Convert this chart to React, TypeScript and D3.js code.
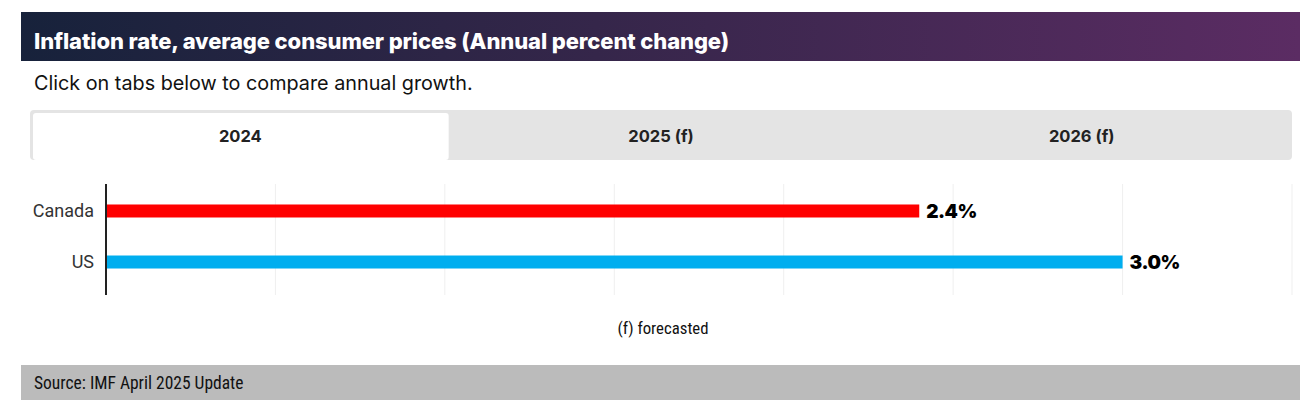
import React, { useEffect, useRef } from 'react';
import * as d3 from 'd3';

const countries = ['Canada', 'US'];
const inflation2024 = [2.4, 3.0];
const barColors = ['#ff0000', '#00aeef'];
const tabLabels = ['2024', '2025 (f)', '2026 (f)'];
const xTicks = [0, 0.5, 1, 1.5, 2, 2.5, 3, 3.5];

const title = 'Inflation rate, average consumer prices (Annual percent change)';
const subtitle = 'Click on tabs below to compare annual growth.';
const note = '(f) forecasted';
const source = 'Source: IMF April 2025 Update';

const W = 1315;
const H = 413;

const App: React.FC = () => {
  const svgRef = useRef<SVGSVGElement>(null);

  useEffect(() => {
    if (!svgRef.current) return;
    const svg = d3.select(svgRef.current);
    svg.selectAll('*').remove();

    // Header band with gradient
    const defs = svg.append('defs');
    const grad = defs.append('linearGradient').attr('id', 'hdr').attr('x1', '0%').attr('x2', '100%');
    grad.append('stop').attr('offset', '0%').attr('stop-color', '#17223b');
    grad.append('stop').attr('offset', '45%').attr('stop-color', '#35264a');
    grad.append('stop').attr('offset', '100%').attr('stop-color', '#5b2c63');

    svg.append('rect')
      .attr('x', 21).attr('y', 12).attr('width', 1279).attr('height', 49)
      .attr('fill', 'url(#hdr)');

    svg.append('text')
      .attr('x', 34).attr('y', 49)
      .attr('fill', '#fff')
      .style('font-family', 'Inter, Lato, sans-serif')
      .style('font-weight', 800)
      .style('font-size', '22px')
      .style('letter-spacing', '-0.1px')
      .text(title);

    svg.append('text')
      .attr('x', 34).attr('y', 90)
      .attr('fill', '#111')
      .style('font-family', 'Inter, "Open Sans", sans-serif')
      .style('font-size', '19.8px')
      .text(subtitle);

    // Tabs
    const tabX = d3.scaleBand().domain(tabLabels).range([30, 1292]);
    svg.append('rect')
      .attr('x', 30).attr('y', 110).attr('width', 1262).attr('height', 50)
      .attr('rx', 4)
      .attr('fill', '#e4e4e4');
    svg.append('rect')
      .attr('x', 33).attr('y', 113).attr('width', tabX.bandwidth() - 5).attr('height', 47)
      .attr('rx', 3)
      .attr('fill', '#fff');
    svg.selectAll('.tab')
      .data(tabLabels)
      .enter().append('text')
      .attr('x', d => (tabX(d) || 0) + tabX.bandwidth() / 2)
      .attr('y', 142)
      .attr('text-anchor', 'middle')
      .attr('fill', '#222')
      .style('font-family', 'Inter, Lato, sans-serif')
      .style('font-weight', 700)
      .style('font-size', '16.5px')
      .text(d => d);

    // Chart
    const x = d3.scaleLinear().domain([0, 3.5]).range([106, 1292]);
    const y = d3.scaleBand().domain(countries).range([185, 288])
      .paddingInner(0.745).paddingOuter(0.382);

    svg.append('g')
      .selectAll('line')
      .data(xTicks.slice(1))
      .enter().append('line')
      .attr('x1', d => x(d)).attr('x2', d => x(d))
      .attr('y1', 184).attr('y2', 295)
      .attr('stroke', '#efefef')
      .attr('stroke-width', 1);

    const rows = countries.map((c, i) => ({ c, v: inflation2024[i], color: barColors[i] }));

    svg.selectAll('.bar')
      .data(rows)
      .enter().append('rect')
      .attr('x', x(0))
      .attr('y', d => (y(d.c) || 0))
      .attr('width', d => x(d.v) - x(0))
      .attr('height', y.bandwidth())
      .attr('fill', d => d.color);

    svg.append('line')
      .attr('x1', x(0)).attr('x2', x(0))
      .attr('y1', 184).attr('y2', 295)
      .attr('stroke', '#222')
      .attr('stroke-width', 2);

    svg.selectAll('.cat')
      .data(rows)
      .enter().append('text')
      .attr('x', 94)
      .attr('y', d => (y(d.c) || 0) + y.bandwidth() / 2)
      .attr('dy', '0.35em')
      .attr('text-anchor', 'end')
      .attr('fill', '#333')
      .style('font-family', 'Roboto, Arial, sans-serif')
      .style('font-size', '18px')
      .text(d => d.c);

    svg.selectAll('.val')
      .data(rows)
      .enter().append('text')
      .attr('x', d => x(d.v) + 7)
      .attr('y', d => (y(d.c) || 0) + y.bandwidth() / 2)
      .attr('dy', '0.36em')
      .attr('fill', '#000')
      .style('font-family', 'Inter, Lato, sans-serif')
      .style('font-weight', 900)
      .style('font-size', '19px')
      .style('letter-spacing', '-0.5px')
      .text(d => `${d.v.toFixed(1)}%`);

    svg.append('text')
      .attr('x', 663).attr('y', 334)
      .attr('text-anchor', 'middle')
      .attr('fill', '#111')
      .style('font-family', '"Liberation Sans Narrow", "Roboto Condensed", Arial, sans-serif')
      .style('font-size', '16.8px')
      .text(note);

    // Footer
    svg.append('rect')
      .attr('x', 21).attr('y', 365).attr('width', 1279).attr('height', 35)
      .attr('fill', '#bbbbbb');
    svg.append('text')
      .attr('x', 34).attr('y', 389)
      .attr('fill', '#111')
      .style('font-family', '"Liberation Sans Narrow", "Roboto Condensed", Arial, sans-serif')
      .style('font-size', '17.5px')
      .text(source);
  }, []);

  return (
    <svg
      ref={svgRef}
      width={W}
      height={H}
      style={{ position: 'absolute', left: 0, top: 0, background: '#fff' }}
    />
  );
};

export default App;
